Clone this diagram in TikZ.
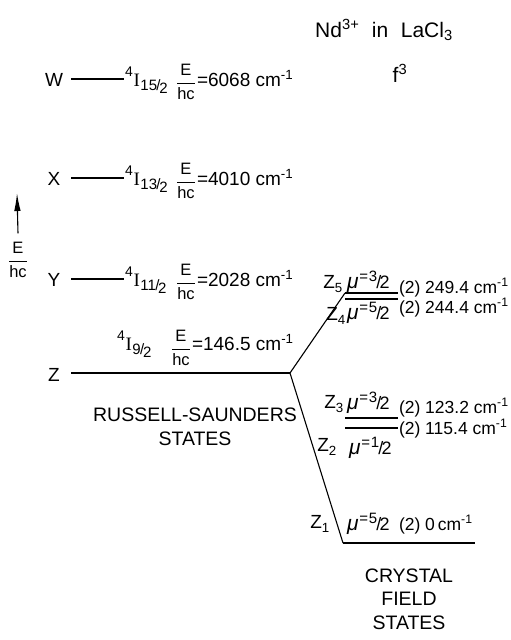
\documentclass[tikz,border=0pt]{standalone}
\usepackage{amsmath}
\usepackage{fontspec}
\setmainfont{Liberation Sans}
\newfontfamily\serifI{Liberation Serif}
\usetikzlibrary{arrows.meta}

\newcommand{\ehc}{$\genfrac{}{}{0.7pt}{0}{\text{\fontsize{16.5}{16.5}\selectfont E}}{\text{\fontsize{16.5}{16.5}\selectfont hc}}$}
\newcommand{\term}[2]{\raisebox{0.9ex}{\fontsize{14}{14}\selectfont 4}\kern0.05em{\serifI I}\kern0.02em\raisebox{-0.45ex}{\fontsize{15}{15}\selectfont #1\kern-0.05em/\kern-0.08em\raisebox{-0.4ex}{#2}}}
\newcommand{\muval}[2]{{\fontsize{21}{21}\selectfont\textit{μ}}\kern0.05em\raisebox{0.6ex}{\fontsize{15}{15}\selectfont =\kern0.05em#1}\kern-0.05em{\fontsize{18}{18}\selectfont /\kern-0.1em#2}}
\newcommand{\wn}{cm\textsuperscript{-1}}

\begin{document}
\begin{tikzpicture}[x=1pt, y=-1pt,
    txt/.style={font=\fontsize{19}{22}\selectfont, inner sep=0, outer sep=0},
    val/.style={font=\fontsize{17.5}{20}\selectfont, inner sep=0, outer sep=0, anchor=base west},
    ttl/.style={font=\fontsize{21}{25}\selectfont, inner sep=0, outer sep=0},
    caps/.style={font=\fontsize{19.5}{24}\selectfont, inner sep=0, align=center},
    lvl/.style={line width=2.5pt},
    thinlvl/.style={line width=1.2pt},
    branch/.style={line width=1.1pt},
    axisarrow/.style={line width=1.1pt, -{Latex[length=18pt, width=6.5pt]}}]
\useasboundingbox (0,0) rectangle (511,640);
%%% Start title
\draw (384,37) node[ttl, anchor=base] (title) {Nd\textsuperscript{3+}\hspace{0.6em}in\hspace{0.6em}LaCl\textsubscript{3}};
\draw (400,82) node[ttl, anchor=base] (conf) {f\textsuperscript{3}};
%%% End title
%%% Start energy axis
\draw (18,260) node[txt] (ehc) {\ehc};
\coordinate (atop) at (17,193);
\draw[axisarrow] ([yshift=9pt]ehc.north) -- (atop);
%%% End energy axis
%%% Start Russell-Saunders states
\foreach \lt/\yy/\j/\v in {W/79/15/6068, X/178/13/4010, Y/279/11/2028} {
  \draw (54,\yy+1) node[txt] (\lt) {\lt};
  \draw[lvl] (71,\yy) coordinate (\lt-a) -- (124,\yy) coordinate (\lt-b);
  \draw (125,\yy+7) node[txt, anchor=base west] (\lt-t) {\term{\j}{2}};
  \draw (186,\yy+3) node[txt] (\lt-f) {\ehc};
  \draw (197,\yy+7) node[txt, anchor=base west] (\lt-v) {=\v\ \wn};
}
\draw (54,375) node[txt] (Z) {Z};
\draw[lvl] (71,373) coordinate (Z-a) -- (125,373) coordinate (Z-m);
\draw[thinlvl] (Z-m) -- (290,373) coordinate (br);
\draw (117,350) node[txt, anchor=base west] (Z-t) {\term{9}{2}};
\draw (181,348) node[txt] (Z-f) {\ehc};
\draw (192,350) node[txt, anchor=base west] (Z-v) {=146.5 \wn};
\draw (195,427) node[caps] (rs) {RUSSELL-SAUNDERS\\STATES};
%%% End Russell-Saunders states
%%% Start crystal field states
\draw[branch] (br) -- (345,293) coordinate (z5-a);
\draw[branch] (br) -- (343,543) coordinate (z1-a);
\draw[lvl] (z5-a) -- (398,293) coordinate (z5-b);
\draw[lvl] (345,299) coordinate (z4-a) -- (398,299) coordinate (z4-b);
\draw[lvl] (345,418) coordinate (z3-a) -- (398,418) coordinate (z3-b);
\draw[lvl] (345,428) coordinate (z2-a) -- (398,428) coordinate (z2-b);
\draw[lvl] (z1-a) -- (398,543) coordinate (z1-m);
\draw[thinlvl] (z1-m) -- (475,543) coordinate (z1-b);
\draw (333,284) node[txt] (z5) {Z\textsubscript{5}};
\draw (336,316) node[txt] (z4) {Z\textsubscript{4}};
\draw (334,404) node[txt] (z3) {Z\textsubscript{3}};
\draw (327,447) node[txt] (z2) {Z\textsubscript{2}};
\draw (320,524) node[txt] (z1) {Z\textsubscript{1}};
\draw (347,288) node[txt, anchor=base west] (z5-mu) {\muval{3}{2}};
\draw (347,319) node[txt, anchor=base west] (z4-mu) {\muval{5}{2}};
\draw (347,409) node[txt, anchor=base west] (z3-mu) {\muval{3}{2}};
\draw (349,454) node[txt, anchor=base west] (z2-mu) {\muval{1}{2}};
\draw (347,530) node[txt, anchor=base west] (z1-mu) {\muval{5}{2}};
\draw (399,293) node[val] (z5-v) {(2) 249.4 \wn};
\draw (399,313) node[val] (z4-v) {(2) 244.4 \wn};
\draw (399,413) node[val] (z3-v) {(2) 123.2 \wn};
\draw (399,434) node[val] (z2-v) {(2) 115.4 \wn};
\draw (399,530) node[val] (z1-v) {(2) 0\,\wn};
\draw (409,599) node[caps, font=\fontsize{19.5}{23.5}\selectfont] (cf) {CRYSTAL\\FIELD\\STATES};
%%% End crystal field states
\end{tikzpicture}
\end{document}
